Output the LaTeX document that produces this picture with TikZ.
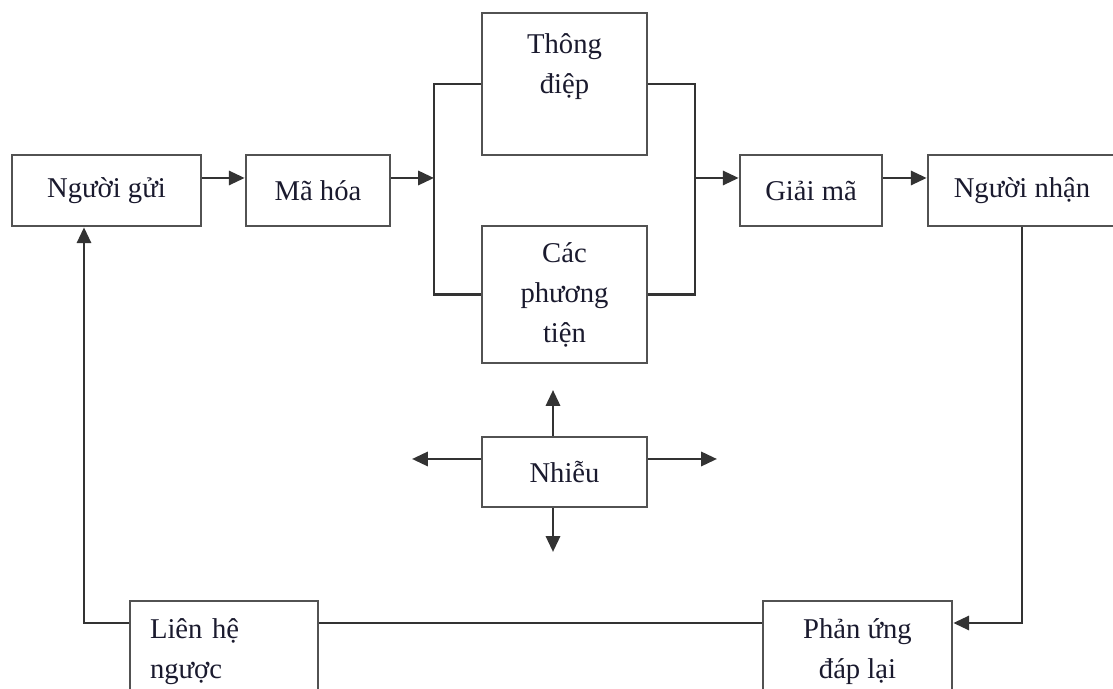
\documentclass[tikz,border=0pt]{standalone}
\usepackage{fontspec}
\setmainfont{Liberation Serif}
\usepackage{xcolor}
\definecolor{lineGray}{HTML}{333333}
\definecolor{textDark}{HTML}{1A1A2E}
\usetikzlibrary{arrows.meta}

\begin{document}
\begin{tikzpicture}[x=0.02cm, y=0.02cm,
  box/.style={rectangle, draw=lineGray!85, line width=1.5pt, inner sep=0pt, align=center,
    text=textDark, font=\fontsize{16.3}{22.8}\selectfont},
  arr/.style={-{Triangle[length=9pt,width=8pt]}, lineGray, line width=1.6pt},
  wire/.style={lineGray, line width=1.6pt, line join=miter}]
  \useasboundingbox (0,0) rectangle (1113,689);
  \clip (0,0) rectangle (1113,689);
  \fill[white] (0,0) rectangle (1113,689);
  % top row
  \node[box, minimum width=3.78cm, minimum height=1.42cm] (gui) at (106.5,498.5) {Người gửi};
  \node[box, minimum width=2.88cm, minimum height=1.42cm] (ma) at (318,498.5) {Mã hóa};
  \node[box, minimum width=3.3cm, minimum height=2.84cm] (msg) at (564.5,605) {Thông\\điệp\\~};
  \node[box, minimum width=3.3cm, minimum height=2.74cm] (media) at (564.5,394.5) {Các\\phương\\tiện};
  \node[box, minimum width=2.84cm, minimum height=1.42cm] (giai) at (811,498.5) {Giải mã};
  \node[box, minimum width=3.76cm, minimum height=1.42cm] (nhan) at (1022,498.5) {Người nhận};
  % noise
  \node[box, minimum width=3.3cm, minimum height=1.4cm] (noise) at (564.5,217) {Nhiễu};
  % feedback row
  \node[box, minimum width=3.76cm, minimum height=2.04cm, inner xsep=0.4cm, text width=2.96cm, align=left] (lien) at (224,37) {Liên hệ\\ngược};
  \node[box, minimum width=3.78cm, minimum height=2.04cm] (phan) at (857.5,37) {Phản ứng\\đáp lại};

  \coordinate (lvl) at (0,511);
  \coordinate (low) at (0,66);
  \coordinate (busL) at (434,511);
  \coordinate (busR) at (695,511);
  \coordinate (fbx) at (84,0);
  \coordinate (nup) at (553,299);
  \coordinate (ndown) at (553,137);
  \coordinate (nleft) at (412,230);
  \coordinate (nright) at (717,230);

  \draw[arr] (gui.east |- lvl) -- (ma.west |- lvl);
  \draw[arr] (ma.east |- lvl) -- (busL);
  \draw[wire] (msg.west) -| (busL) |- (media.west);
  \draw[wire] (msg.east) -| (busR) |- (media.east);
  \draw[arr] (busR) -- (giai.west |- lvl);
  \draw[arr] (giai.east |- lvl) -- (nhan.west |- lvl);
  \draw[arr] (nhan.south -| 1022,0) |- (phan.east |- low);
  \draw[wire] (phan.west |- low) -- (lien.east |- low);
  \draw[arr] (lien.west |- low) -| (gui.south -| fbx);

  \draw[arr] (noise.north -| nup) -- (nup);
  \draw[arr] (noise.south -| ndown) -- (ndown);
  \draw[arr] (noise.west |- nleft) -- (nleft);
  \draw[arr] (noise.east |- nright) -- (nright);
\end{tikzpicture}
\end{document}
